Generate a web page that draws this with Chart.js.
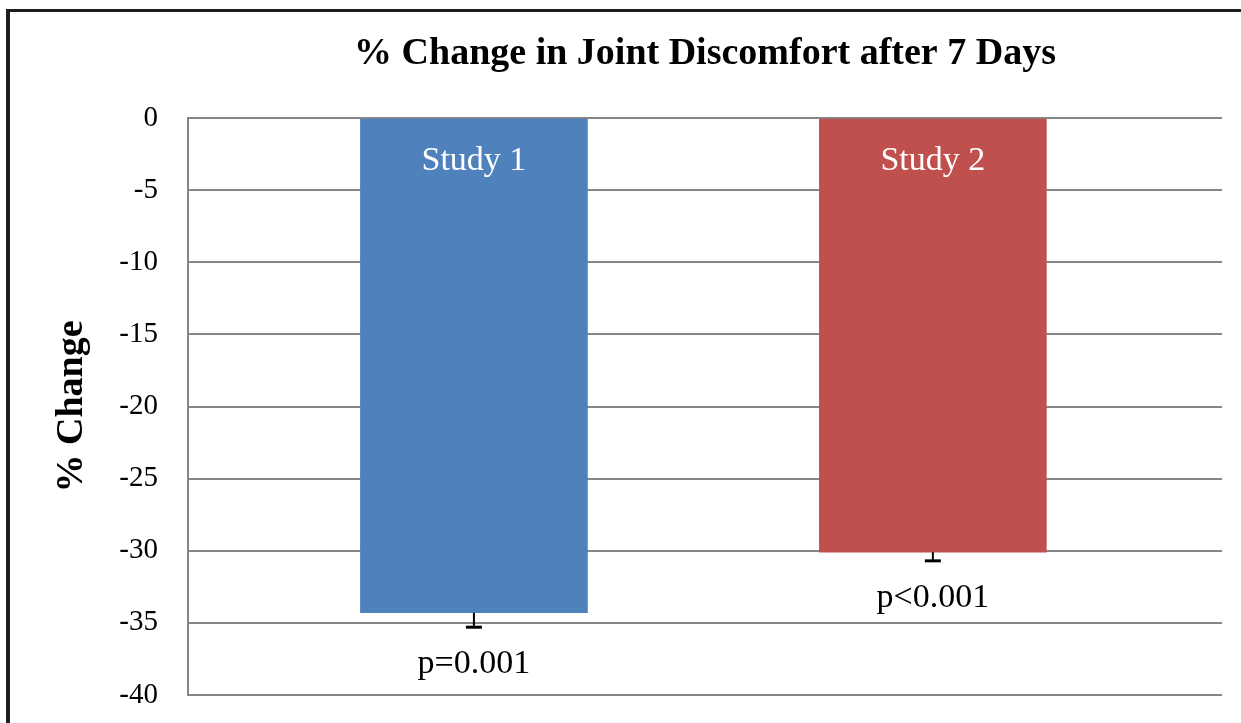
<!DOCTYPE html>
<html>
<head>
<meta charset="utf-8">
<script src="https://cdn.jsdelivr.net/npm/chart.js@4/dist/chart.umd.min.js"></script>
<style>
html,body{margin:0;padding:0;background:#fff;overflow:hidden;}
#frame{position:absolute;left:6px;top:9px;width:1300px;height:800px;border-left:4px solid #1e1e1e;border-top:3px solid #1e1e1e;}
#chart{position:absolute;left:0;top:0;}
</style>
</head>
<body>
<div id="frame"></div>
<canvas id="chart" width="1241" height="723"></canvas>
<script>
// Data
const chartTitle='% Change in Joint Discomfort after 7 Days';
const studies=['Study 1','Study 2'];
const changes=[-34.3,-30.1];
const errors=[1.0,0.6];
const pValues=['p=0.001','p<0.001'];
const barColors=['#4F81BD','#C0504D'];
const yTicks=[0,-5,-10,-15,-20,-25,-30,-35,-40];
const serif='"Liberation Serif", "Times New Roman", serif';

// Title, error bars and bar labels
const annotate={
  id:'annotate',
  afterDatasetsDraw(chart){
    const ctx=chart.ctx, y=chart.scales.y, area=chart.chartArea;
    const meta=chart.getDatasetMeta(0);
    ctx.save();
    ctx.textAlign='center';
    ctx.textBaseline='alphabetic';
    ctx.fillStyle='#000';
    ctx.font='bold 38px '+serif;
    ctx.fillText(chartTitle,(area.left+area.right)/2,64);
    meta.data.forEach((bar,i)=>{
      const x=bar.x;
      const top=y.getPixelForValue(changes[i]);
      const end=y.getPixelForValue(changes[i]-errors[i]);
      ctx.strokeStyle='#000';
      ctx.lineWidth=2;
      ctx.beginPath();
      ctx.moveTo(x,top); ctx.lineTo(x,end);
      ctx.stroke();
      ctx.lineWidth=3;
      ctx.beginPath();
      ctx.moveTo(x-8,end); ctx.lineTo(x+8,end);
      ctx.stroke();
      ctx.font='34px '+serif;
      ctx.fillStyle='#fff';
      ctx.fillText(studies[i],x,y.getPixelForValue(0)+52);
      ctx.fillStyle='#000';
      ctx.fillText(pValues[i],x,end+46);
    });
    ctx.restore();
  }
};

new Chart(document.getElementById('chart'),{
  type:'bar',
  data:{
    datasets:[{
      data:studies.map((s,i)=>({x:i+1,y:changes[i]})),
      backgroundColor:barColors,
      barThickness:227
    }]
  },
  options:{
    responsive:false,
    animation:false,
    layout:{padding:{top:118,right:19,bottom:28,left:0}},
    plugins:{legend:{display:false},tooltip:{enabled:false}},
    scales:{
      x:{type:'linear',offset:false,min:0.377,max:2.63,display:false},
      y:{
        min:-40,max:0,
        afterBuildTicks:s=>{s.ticks=yTicks.map(v=>({value:v}));},
        afterFit:s=>{s.width=188;s.paddingTop=0;s.paddingBottom=0;},
        grid:{color:'#868686',lineWidth:2,drawTicks:false},
        border:{display:true,color:'#868686',width:2},
        ticks:{padding:30,color:'#000',font:{family:serif,size:29}},
        title:{display:true,text:'% Change',color:'#000',
          font:{family:serif,size:38,weight:'bold'},padding:{top:49,bottom:0}}
      }
    }
  },
  plugins:[annotate]
});
</script>
</body>
</html>
